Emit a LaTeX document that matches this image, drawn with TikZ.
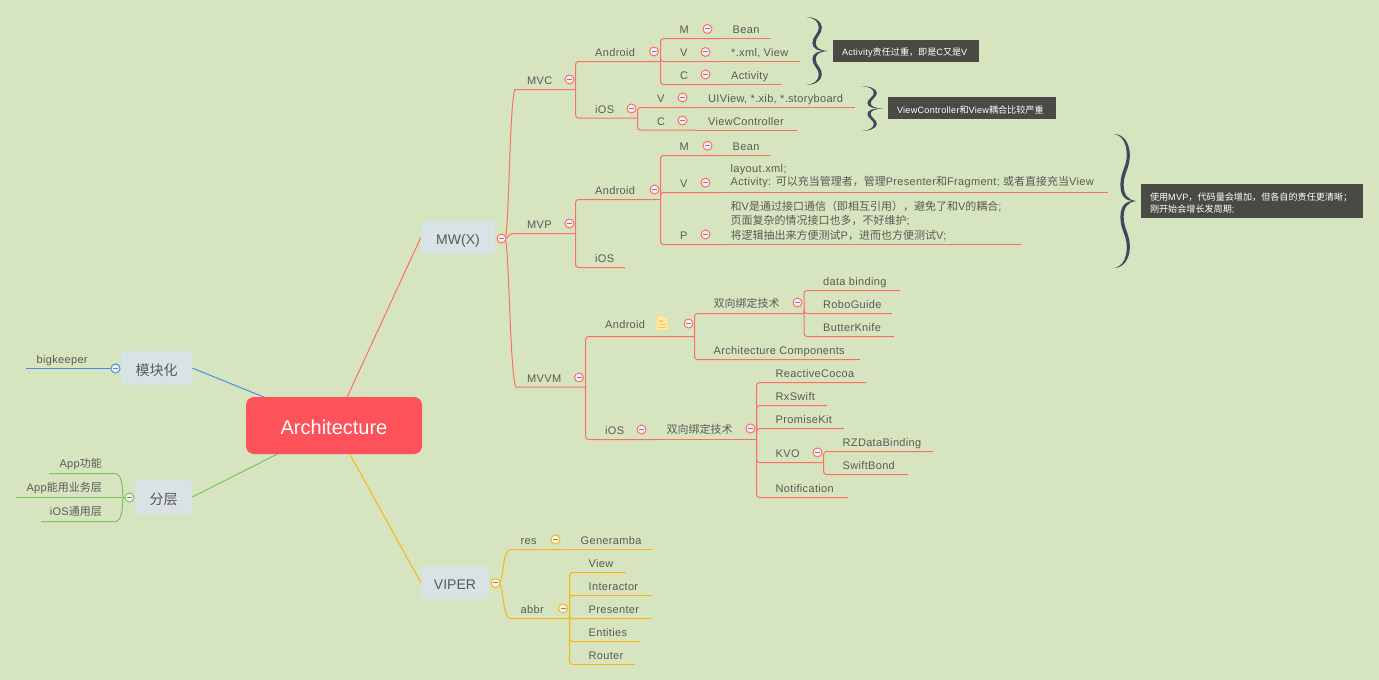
\documentclass[tikz,border=0pt]{standalone}
\usepackage{fontspec}
\setmainfont[LetterSpace=3]{Liberation Sans}
\newfontfamily\plainlat{Liberation Sans}
\newfontfamily\cjk{Noto Sans CJK SC}
\usetikzlibrary{backgrounds}
\newcommand{\zh}[1]{{\cjk #1}}
\definecolor{bgc}{HTML}{D6E5C0}
\definecolor{redc}{HTML}{FF6F61}
\definecolor{orgc}{HTML}{FBB41A}
\definecolor{bluc}{HTML}{4A90E2}
\definecolor{grnc}{HTML}{7AC55C}
\definecolor{txc}{HTML}{5A5A55}
\definecolor{boxc}{HTML}{D9E2E4}
\definecolor{notec}{HTML}{4A4A44}
\definecolor{bracec}{HTML}{3E4A5A}
\definecolor{minusc}{HTML}{7583B5}
\definecolor{rootc}{HTML}{FF525A}
\definecolor{docf}{HTML}{FFE9A8}
\definecolor{docd}{HTML}{FFD97A}
\definecolor{docl}{HTML}{F8CC55}
\tikzset{
  txt/.style={text=txc,inner sep=0pt,anchor=west,font=\fontsize{11}{13}\selectfont,text height=9.5pt,text depth=1.5pt},
  multi/.style={text=txc,inner sep=0pt,anchor=west,align=left,font=\fontsize{11}{#1}\selectfont},
  branch/.style={line width=1pt,rounded corners=3pt},
  togl/.style={circle,draw=#1,line width=1pt,fill=white!88!#1,minimum size=9pt,inner sep=0pt},
  mainbox/.style={rectangle,rounded corners=4pt,fill=boxc,text=txc,inner sep=0pt,font=\plainlat\fontsize{14}{16}\selectfont,text height=14pt,text depth=0pt},
  rootbox/.style={rectangle,rounded corners=8pt,fill=rootc,minimum width=176pt,minimum height=57pt,inner sep=0pt,text=white,font=\plainlat\fontsize{20}{22}\selectfont,text height=17pt,text depth=0pt},
  notebox/.style={rectangle,fill=notec,inner sep=0pt},
  notetext/.style={text=white,inner sep=0pt,anchor=west,align=left,font=\fontsize{9.1}{12.3}\selectfont}
}
% colour, parent, name, text x, centre y, text, line y, line end x
\newcommand{\topic}[8]{%
  \node[txt] (#3) at (#4,#5) {#6};
  \coordinate (#3-b) at (#8,#7);
  \draw[#1,branch] (#2-b) |- (#3-b);
}
% same, where the line simply goes on from the parent's
\newcommand{\cont}[8]{%
  \node[txt] (#3) at (#4,#5) {#6};
  \coordinate (#3-b) at (#8,#7);
  \draw[#1,line width=1pt] (#2-b) -- (#3-b);
}
\newcommand{\contm}[9]{%
  \node[multi=#9] (#3) at (#4,#5) {#6};
  \coordinate (#3-b) at (#8,#7);
  \draw[#1,line width=1pt] (#2-b) -- (#3-b);
}
\newcommand{\tog}[4]{\node[togl=#1] (#2) at (#3,#4) {\textcolor{minusc}{\rule[0.6pt]{5pt}{1pt}}};}
\newcommand{\bracehalf}{%
  \fill[bracec] (0,0) .. controls (.4,0) and (.7,.12) .. (.72,.3)
     .. controls (.74,.5) and (.44,.58) .. (.44,.76)
     .. controls (.44,.9) and (.6,.98) .. (1,1)
     .. controls (.55,1.01) and (.29,.94) .. (.29,.76)
     .. controls (.29,.56) and (.6,.48) .. (.58,.3)
     .. controls (.56,.12) and (.35,.02) .. (0,0) -- cycle;}
% left, top, width, height
\newcommand{\mybrace}[4]{%
  \begin{scope}[shift={(#1,#2)},xscale=#3,yscale=#4/2]\bracehalf\end{scope}
  \begin{scope}[shift={(#1,#2+#4)},xscale=#3,yscale=-#4/2]\bracehalf\end{scope}}
\begin{document}
\begin{tikzpicture}[x=1pt,y=-1pt]
\useasboundingbox (0,0) rectangle (1379,680);

% main nodes
\node[rootbox] (root) at (334,425.5) {Architecture};
\node[mainbox,minimum width=74pt,minimum height=33pt] (mw) at (458,237.5) {MW(X)};
\node[mainbox,minimum width=68pt,minimum height=33pt] (viper) at (455,582.5) {VIPER};
\node[mainbox,minimum width=71pt,minimum height=34pt] (mod) at (156.5,368) {\zh{模块化}};
\node[mainbox,minimum width=57pt,minimum height=34pt] (fen) at (163.5,497) {\zh{分层}};

\begin{scope}[on background layer]
  \fill[bgc] (0,0) rectangle (1379,680);
  \draw[redc,line width=1pt] (mw.west) -- (root.center);
  \draw[orgc,line width=1pt] (viper.west) -- (root.center);
  \draw[bluc,line width=1pt] (mod.east) -- (root.center);
  \draw[grnc,line width=1pt] (fen.east) -- (root.center);
\end{scope}

% MW(X) main branches
\coordinate (mwj) at (505,238.5);
\coordinate (mvc-b) at (575.5,89.5);
\coordinate (mvp-b) at (575.5,233.5);
\coordinate (mvvm-b) at (585.5,387);
\coordinate (mvc-c) at (515,89.5);
\coordinate (mvp-c) at (515,233.5);
\coordinate (mvvm-c) at (516,387);
\draw[redc,line width=1pt] (mwj) .. controls (509,236) and (509.5,100) .. (mvc-c) -- (mvc-b);
\draw[redc,line width=1pt] (mwj) .. controls (508,238) and (508,233.5) .. (mvp-c) -- (mvp-b);
\draw[redc,line width=1pt] (mwj) .. controls (509,241) and (510,378) .. (mvvm-c) -- (mvvm-b);
\node[txt] (mvc) at (527,80) {MVC};
\node[txt] (mvp) at (527,224) {MVP};
\node[txt] (mvvm) at (527,378) {MVVM};

% MVC
\topic{redc}{mvc}{ca}{595}{52}{Android}{61.5}{660.5}
\topic{redc}{ca}{cam}{679.5}{29.5}{M}{38.5}{722}
\cont{redc}{cam}{camt}{732.5}{29.5}{Bean}{38.5}{771}
\topic{redc}{ca}{cav}{680}{52}{V}{61.5}{722}
\cont{redc}{cav}{cavt}{731}{52}{*.xml, View}{61.5}{800}
\topic{redc}{ca}{cac}{680}{75}{C}{84.5}{722}
\cont{redc}{cac}{cact}{731}{75}{Activity}{84.5}{782}
\topic{redc}{mvc}{ci}{595}{109}{iOS}{118}{637.5}
\topic{redc}{ci}{civ}{657}{98}{V}{107.5}{695}
\cont{redc}{civ}{civt}{708}{98}{UIView, *.xib, *.storyboard}{107.5}{855}
\topic{redc}{ci}{cic}{657}{121}{C}{130}{695}
\cont{redc}{cic}{cict}{708}{121}{ViewController}{130}{797}

% MVP
\topic{redc}{mvp}{pa}{595}{190}{Android}{199.5}{660.5}
\topic{redc}{pa}{pam}{679.5}{146}{M}{155.5}{722}
\cont{redc}{pam}{pamt}{732.5}{146}{Bean}{155.5}{771}
\topic{redc}{pa}{pav}{680}{183}{V}{192.5}{722}
\contm{redc}{pav}{pavt}{730.5}{176.5}{layout.xml;\\Activity: \zh{可以充当管理者，管理}Presenter\zh{和}Fragment; \zh{或者直接充当}View}{192.5}{1108}{13}
\topic{redc}{pa}{pap}{680}{235}{P}{244.5}{722}
\contm{redc}{pap}{papt}{730.5}{220.5}{\zh{和}V\zh{是通过接口通信（即相互引用），避免了和}V\zh{的耦合};\\\zh{页面复杂的情况接口也多，不好维护};\\\zh{将逻辑抽出来方便测试}P\zh{，进而也方便测试}V;}{244.5}{1021}{14.5}
\topic{redc}{mvp}{pi}{595}{258}{iOS}{267.5}{625}

% MVVM
\topic{redc}{mvvm}{va}{605}{324}{Android}{336.5}{694.5}
\topic{redc}{va}{vab}{713.5}{303}{\zh{双向绑定技术}}{313.5}{804}
\topic{redc}{vab}{vab1}{823}{281.5}{data binding}{290.5}{900}
\topic{redc}{vab}{vab2}{823}{304.5}{RoboGuide}{313.5}{892}
\topic{redc}{vab}{vab3}{823}{327.5}{ButterKnife}{336.5}{894}
\topic{redc}{va}{vac}{713.5}{350.5}{Architecture Components}{359.5}{860}
\topic{redc}{mvvm}{vi}{605}{430}{iOS}{439.5}{655}
\cont{redc}{vi}{vib}{666.5}{429}{\zh{双向绑定技术}}{439.5}{756.5}
\topic{redc}{vib}{vi1}{775.5}{373.5}{ReactiveCocoa}{382.5}{866}
\topic{redc}{vib}{vi2}{775.5}{396.5}{RxSwift}{405.5}{827}
\topic{redc}{vib}{vi3}{775.5}{419.5}{PromiseKit}{428.5}{844}
\topic{redc}{vib}{vik}{775.5}{453}{KVO}{462.5}{823.5}
\topic{redc}{vik}{vik1}{842.5}{442.5}{RZDataBinding}{451.5}{933}
\topic{redc}{vik}{vik2}{842.5}{465.5}{SwiftBond}{474.5}{908}
\topic{redc}{vib}{vi5}{775.5}{488.5}{Notification}{497.5}{848}

% doc icon
\filldraw[fill=docf,draw=docd,line width=.9pt,rounded corners=.5pt] (656.7,316) -- (664,316) -- (667.7,319.7) -- (667.7,330.5) -- (656.7,330.5) -- cycle;
\draw[docl,line width=1.1pt] (658.7,321) -- (662.5,321) (658.7,324.5) -- (665.7,324.5) (658.7,327.8) -- (665.7,327.8);

% VIPER
\coordinate (vj) at (499,583);
\coordinate (vres-c) at (510,549.5);
\coordinate (vabb-c) at (510,618.5);
\coordinate (vres-b) at (570,549.5);
\coordinate (vabb-b) at (569.5,618.5);
\draw[orgc,line width=1pt] (vj) .. controls (504,580) and (502,552) .. (vres-c) -- (vres-b);
\draw[orgc,line width=1pt] (vj) .. controls (504,586) and (502,616) .. (vabb-c) -- (vabb-b);
\node[txt] (vres) at (520.5,540.5) {res};
\node[txt] (vabb) at (520.5,609.5) {abbr};
\cont{orgc}{vres}{gen}{580.5}{540.5}{Generamba}{549.5}{653}
\topic{orgc}{vabb}{v1}{588.5}{563.5}{View}{572.5}{626}
\topic{orgc}{vabb}{v2}{588.5}{586.5}{Interactor}{595.5}{652}
\topic{orgc}{vabb}{v3}{588.5}{609.5}{Presenter}{618.5}{651}
\topic{orgc}{vabb}{v4}{588.5}{632.5}{Entities}{641.5}{639}
\topic{orgc}{vabb}{v5}{588.5}{655.5}{Router}{664.5}{635}

% left side
\coordinate (modj) at (115.5,368.5);
\coordinate (bk-b) at (26,368.5);
\draw[bluc,line width=1pt] (modj) -- (bk-b);
\node[txt] (bk) at (36.5,359.5) {bigkeeper};
\coordinate (fenj) at (125,497.5);
\coordinate (fj) at (122.8,497.5);
\coordinate (f1-c) at (116,473.5);
\coordinate (f3-c) at (116,521.5);
\coordinate (f1-b) at (49,473.5);
\coordinate (f2-b) at (16,497.5);
\coordinate (f3-b) at (41,521.5);
\draw[grnc,line width=1pt] (fj) .. controls (122.8,484) and (121,474.5) .. (f1-c) -- (f1-b);
\draw[grnc,line width=1pt] (fenj) -- (f2-b);
\draw[grnc,line width=1pt] (fj) .. controls (122.8,511) and (121,520.5) .. (f3-c) -- (f3-b);
\node[txt,anchor=east] (f1) at (102,463.5) {App\zh{功能}};
\node[txt,anchor=east] (f2) at (102,487) {App\zh{能用业务层}};
\node[txt,anchor=east] (f3) at (102,511) {iOS\zh{通用层}};

% toggles
\tog{redc}{t1}{501.5}{238.5}
\tog{redc}{t2}{569.5}{79.5}
\tog{redc}{t3}{654}{51.5}
\tog{redc}{t4}{707.5}{29}
\tog{redc}{t5}{705.5}{52}
\tog{redc}{t6}{705.5}{74.5}
\tog{redc}{t7}{631.5}{108.5}
\tog{redc}{t8}{682.5}{97.5}
\tog{redc}{t9}{682.5}{120.5}
\tog{redc}{t10}{569.5}{223.5}
\tog{redc}{t11}{654.5}{189.5}
\tog{redc}{t12}{707.5}{145.7}
\tog{redc}{t13}{705.5}{182.7}
\tog{redc}{t14}{705.5}{234.5}
\tog{redc}{t15}{579}{377.5}
\tog{redc}{t16}{688.5}{323.5}
\tog{redc}{t17}{797.5}{302.5}
\tog{redc}{t18}{641.5}{429.5}
\tog{redc}{t19}{750.5}{428.5}
\tog{redc}{t20}{817.5}{452.5}
\tog{orgc}{t21}{495.5}{583}
\tog{orgc}{t22}{555.5}{539.5}
\tog{orgc}{t23}{563}{608.5}
\tog{bluc}{t24}{115.5}{368.5}
\tog{grnc}{t25}{129.5}{497.5}

% braces and notes
\mybrace{806}{17}{22}{68}
\mybrace{861}{86}{22}{45}
\mybrace{1114}{134}{22}{134}
\node[notebox,minimum width=146pt,minimum height=22pt] (n1) at (906,51) {};
\node[notetext] (n1t) at ([shift={(9,2)}]n1.west) {Activity\zh{责任过重，即是}C\zh{又是}V};
\node[notebox,minimum width=168pt,minimum height=22pt] (n2) at (972,108) {};
\node[notetext] (n2t) at ([shift={(9,2)}]n2.west) {ViewController\zh{和}View\zh{耦合比较严重}};
\node[notebox,minimum width=222pt,minimum height=34pt] (n3) at (1252,201) {};
\node[notetext] (n3t) at ([shift={(9,2)}]n3.west) {\zh{使用}MVP\zh{，代码量会增加，但各自的责任更清晰；}\\\zh{刚开始会增长发周期};};
\end{tikzpicture}
\end{document}
